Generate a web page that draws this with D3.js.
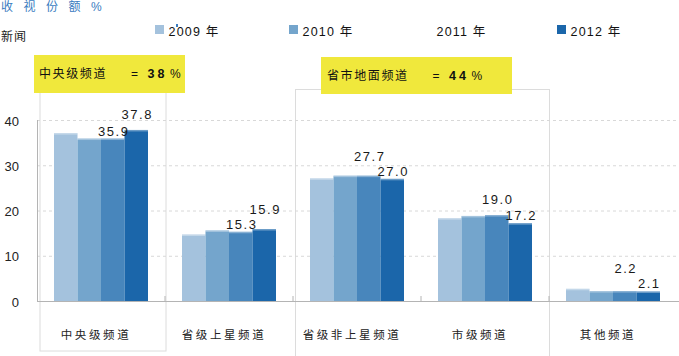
<!DOCTYPE html>
<html><head><meta charset="utf-8">
<script src="https://cdn.jsdelivr.net/npm/d3@7"></script>
<style>
html,body{margin:0;padding:0;background:#fff;}
svg{display:block;font-family:"Liberation Sans","Noto Sans CJK SC",sans-serif;}
</style></head>
<body><svg id="c" width="679" height="356"></svg>
<script>
const categories = ["中央级频道","省级上星频道","省级非上星频道","市级频道","其他频道"];
const years = ["2009 年","2010 年","2011 年","2012 年"];
const v2009 = [37.1, 14.7, 27.1, 18.3, 2.7];
const v2010 = [35.9, 15.6, 27.7, 18.8, 2.2];
const v2011 = [35.9, 15.3, 27.7, 19.0, 2.2];
const v2012 = [37.8, 15.9, 27.0, 17.2, 2.1];
const yTicks = [0, 10, 20, 30, 40];
const groupNames = ["中央级频道","省市地面频道"];
const groupShares = [38, 44];
const title = "收视份额%";
const subtitle = "新闻";

const colors = ["#a4c2dd","#74a5cc","#4886bc","#1b66aa"];
const seriesVals = [v2009, v2010, v2011, v2012];

const svg = d3.select("#c");
const x = d3.scaleBand().domain(categories).range([37, 677]).paddingInner(0.2656).paddingOuter(0.1328);
const xs = d3.scaleBand().domain(years).range([0, x.bandwidth()]);
const y = d3.scaleLinear().domain([0, 40]).range([301, 120]);
const step = x.step();
const bandStart = c => x(c) - x.paddingInner()*step/2;

// outline boxes
svg.append("rect").attr("x", bandStart(categories[0]) + 3).attr("y", 92)
  .attr("width", step - 2).attr("height", 259)
  .attr("fill","none").attr("stroke","#dcdcdc").attr("stroke-width",1);
svg.append("rect").attr("x", bandStart(categories[2]) + 2.5).attr("y", 89.5)
  .attr("width", 2*step - 2).attr("height", 280)
  .attr("fill","none").attr("stroke","#dcdcdc").attr("stroke-width",1);

// gridlines
const grid = svg.append("g").attr("transform","translate(37,0)")
  .call(d3.axisRight(y).tickValues(yTicks.filter(d=>d>0)).tickSize(640).tickFormat(""));
grid.select(".domain").remove();
grid.selectAll("line").attr("stroke","#d8d8d8").attr("stroke-dasharray","3,3");

// y axis
const ya = svg.append("g").attr("transform","translate(20,0)")
  .call(d3.axisLeft(y).tickValues(yTicks).tickSize(0).tickPadding(1));
ya.select(".domain").remove();
ya.selectAll("text").attr("font-size",13).attr("fill","#222").attr("dy","0.4em")
  .attr("font-family","'Liberation Sans',sans-serif");
svg.append("line").attr("x1",37.5).attr("x2",37.5).attr("y1",y(40)).attr("y2",y(0))
  .attr("stroke","#b4b4b4");

// bars
const groups = svg.append("g").selectAll("g").data(categories).join("g")
  .attr("transform", c => `translate(${x(c)},0)`);
years.forEach((yr, si) => {
  groups.append("rect")
    .attr("x", xs(yr)).attr("width", xs.bandwidth())
    .attr("y", (c,i) => y(seriesVals[si][i]))
    .attr("height", (c,i) => y(0) - y(seriesVals[si][i]))
    .attr("fill", colors[si]);
  groups.append("rect")
    .attr("x", xs(yr)).attr("width", xs.bandwidth())
    .attr("y", (c,i) => y(seriesVals[si][i]))
    .attr("height", 1.5).attr("fill","#fff").attr("opacity",0.35);
});

// x axis line and ticks
svg.append("line").attr("x1",37).attr("x2",679).attr("y1",301.5).attr("y2",301.5).attr("stroke","#b4b4b4");
categories.slice(1).forEach(c => {
  svg.append("line").attr("x1",bandStart(c)).attr("x2",bandStart(c))
    .attr("y1",296).attr("y2",301).attr("stroke","#b4b4b4");
});

// value labels for 2011 and 2012, staggered so the higher one sits above
categories.forEach((c, i) => {
  const a = v2011[i], b = v2012[i];
  const lowIsA = a < b;
  const lowV = lowIsA ? a : b, highV = lowIsA ? b : a;
  const lowYr = lowIsA ? years[2] : years[3], highYr = lowIsA ? years[3] : years[2];
  const lowBase = y(lowV) - 3;
  const highBase = Math.min(y(highV) - 11, lowBase - 15);
  [[lowV, lowYr, lowBase], [highV, highYr, highBase]].forEach(([v, yr, by]) => {
    svg.append("text")
      .attr("x", x(c) + xs(yr) + xs.bandwidth()/2 + 1)
      .attr("y", by)
      .attr("text-anchor","middle").attr("font-size",13).attr("letter-spacing","1.5px")
      .attr("fill","#1a1a1a")
      .text(v.toFixed(1));
  });
});

// category labels
svg.append("g").selectAll("text").data(categories).join("text")
  .attr("x", c => x(c) + x.bandwidth()/2 - 5)
  .attr("y", 339)
  .attr("text-anchor","middle").attr("font-size",11.5).attr("letter-spacing","2.6px")
  .attr("fill","#222")
  .text(c => c);

// title
svg.append("text").attr("x",1).attr("y",11).attr("font-size",12).attr("fill","#3a7cc0")
  .attr("letter-spacing","10.5px").text(title);
svg.append("text").attr("x",1).attr("y",41).attr("font-size",12).attr("fill","#222")
  .attr("letter-spacing","1px").text(subtitle);

// legend
const legendX = [155, 289, 423, 557];
years.forEach((yr, si) => {
  if (yr !== "2011 年") {
    svg.append("rect").attr("x", legendX[si]).attr("y",25).attr("width",9).attr("height",9).attr("fill",colors[si]);
  }
  svg.append("text").attr("x", legendX[si] + 13.5).attr("y",36)
    .attr("font-size",12.5).attr("letter-spacing","1.2px").attr("fill","#111").text(yr);
});
svg.append("rect").attr("x",176).attr("y",24).attr("width",2).attr("height",3).attr("fill","#3a7cc0");

// yellow annotation boxes
const ann = [{x:34, y:55, w:151, h:38, xt:39}, {x:321, y:57, w:191, h:37, xt:327}];
groupNames.forEach((g, i) => {
  const a = ann[i];
  const by = a.y + 23;
  svg.append("rect").attr("x",a.x).attr("y",a.y).attr("width",a.w).attr("height",a.h).attr("fill","#f0e83c");
  svg.append("text").attr("x",a.xt).attr("y",by).attr("font-size",12).attr("letter-spacing","1.6px")
    .attr("fill","#111").text(g);
  const eqX = a.xt + g.length*13.6 + 24;
  svg.append("text").attr("x",eqX).attr("y",by).attr("font-size",12).attr("fill","#111").text("=");
  svg.append("text").attr("x",eqX+16.5).attr("y",by).attr("font-size",12.5).attr("letter-spacing","3px")
    .attr("fill","#111").attr("font-weight","bold").text(groupShares[i]);
  svg.append("text").attr("x",eqX+39).attr("y",by).attr("font-size",12).attr("fill","#111").text("%");
});
</script></body></html>
